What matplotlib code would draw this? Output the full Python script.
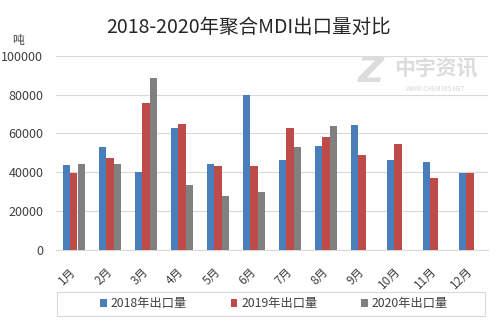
import matplotlib
matplotlib.use("Agg")
import matplotlib.pyplot as plt
from matplotlib.patches import Rectangle
import numpy as np

plt.rcParams['font.family'] = ['Noto Sans CJK SC', 'DejaVu Sans']

months = ["1月", "2月", "3月", "4月", "5月", "6月", "7月", "8月", "9月", "10月", "11月", "12月"]
y2018 = [43600, 52800, 40000, 63000, 44100, 79900, 46100, 53300, 64500, 46100, 45100, 39600]
y2019 = [39600, 47200, 75800, 65000, 43100, 43100, 62600, 58300, 48700, 54700, 37000, 39600]
y2020 = [44100, 44100, 88500, 33400, 28000, 29800, 52800, 64000, np.nan, np.nan, np.nan, np.nan]
series_names = ["2018年出口量", "2019年出口量", "2020年出口量"]
colors = ["#4a7ebb", "#be4b48", "#808080"]
yticks = [0, 20000, 40000, 60000, 80000, 100000]

fig = plt.figure(figsize=(4.99, 3.26), dpi=100)
ax = fig.add_axes([0.112, 0.233, 0.866, 0.596])

x = np.arange(len(months))
w = 0.2
for i, (vals, name, c) in enumerate(zip([y2018, y2019, y2020], series_names, colors)):
    ax.bar(x + (i - 1) * (w + 0.012), vals, width=w, color=c, label=name, zorder=3)

ax.set_xlim(-0.5, len(months) - 0.5)
ax.set_ylim(0, 100000)
ax.set_yticks(yticks)
ax.set_yticklabels([str(v) for v in yticks], fontsize=9, color="#404040")
ax.set_xticks(x)
ax.set_xticklabels(months, rotation=45, fontsize=8.5, color="#404040", ha="right", va="center",
                   rotation_mode="anchor")
ax.tick_params(axis="both", length=0)
ax.tick_params(axis="y", pad=9)
ax.tick_params(axis="x", pad=14)
ax.grid(axis="y", color="#d9d9d9", linewidth=0.8, zorder=0)
for s in ["top", "right", "left"]:
    ax.spines[s].set_visible(False)
ax.spines["bottom"].set_color("#d9d9d9")

fig.text(0.499, 0.915, "2018-2020年聚合MDI出口量对比", ha="center", va="center", fontsize=14, color="#262626")
fig.text(0.036, 0.875, "吨", ha="center", va="center", fontsize=8.5, color="#404040")

# watermark
fig.text(0.743, 0.780, "Z", ha="center", va="center", fontsize=26, fontweight="bold", style="italic",
         color="#dcdcdc", family="DejaVu Sans", zorder=1)
fig.text(0.874, 0.787, "中宇资讯", ha="center", va="center", fontsize=15, fontweight="bold",
         color="#dcdcdc", zorder=1)
fig.text(0.874, 0.728, "WWW.CHEM365.NET", ha="center", va="center", fontsize=4.5, color="#d6d6d6", zorder=1)

# legend frame
fig.patches.append(Rectangle((57 / 499, (326 - 316) / 326), 428 / 499, 24 / 326,
                             transform=fig.transFigure, fill=False, edgecolor="#d9d9d9",
                             linewidth=0.8))
leg = ax.legend(loc="center", bbox_to_anchor=(274 / 499, (326 - 304) / 326),
                bbox_transform=fig.transFigure, ncol=3, fontsize=8.8, frameon=False,
                handlelength=0.55, handleheight=0.55, handletextpad=0.3, columnspacing=3.6,
                borderpad=0.35)
for t in leg.get_texts():
    t.set_color("#404040")

fig.savefig("out.png", dpi=100, facecolor="white")
